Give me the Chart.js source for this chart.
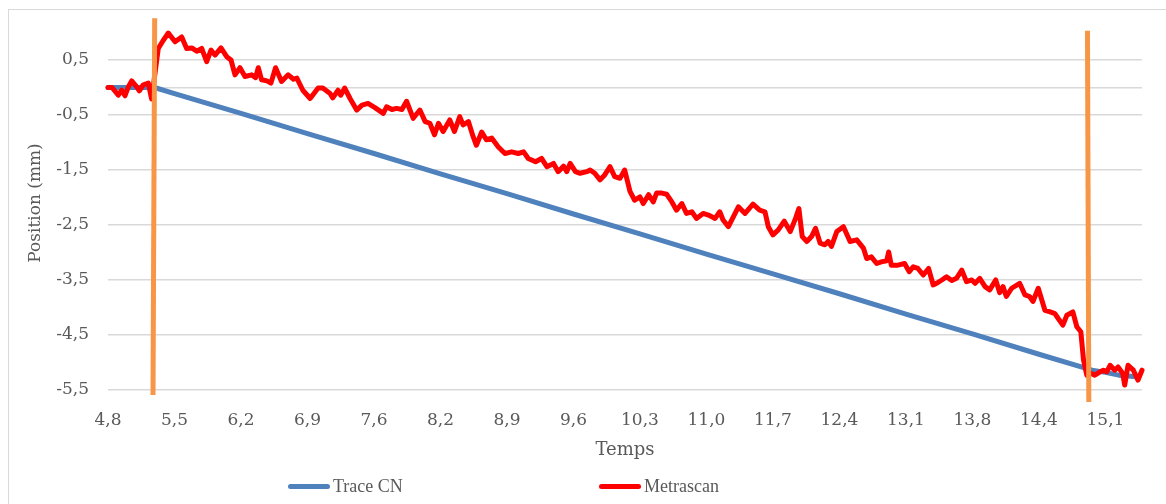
<!DOCTYPE html>
<html>
<head>
<meta charset="utf-8">
<script src="https://cdn.jsdelivr.net/npm/chart.js@4.4.1/dist/chart.umd.min.js"></script>
<style>
  html, body { margin: 0; padding: 0; background: #fff; overflow: hidden; }
  #wrap { position: relative; width: 1166px; height: 504px; }
  #frame { position: absolute; left: 8px; top: 9px; width: 1300px; height: 600px; border: 1px solid #d9d9d9; }
  #box { position: absolute; left: 0; top: 0; width: 1166px; height: 504px; }
  .leg { position: absolute; top: 475px; font-family: "Liberation Serif", serif; font-size: 18px; color: #595959; line-height: 22px; }
  .sw { position: absolute; width: 42px; height: 5px; border-radius: 3px; }
</style>
</head>
<body>
<div id="wrap">
  <div id="frame"></div>
  <div id="box"><canvas id="chart1"></canvas></div>
  <div class="sw" style="left:288px; top:484px; background:#4F81BD"></div>
  <div class="leg" style="left:333px">Trace CN</div>
  <div class="sw" style="left:599px; top:484px; background:#FF0000"></div>
  <div class="leg" style="left:644px">Metrascan</div>
</div>
<script>
// x axis: sample index, a tick label every 10 samples
const xTickPos = [0, 10, 20, 30, 40, 50, 60, 70, 80, 90, 100, 110, 120, 130, 140, 150];
const xTickLabels = ['4,8', '5,5', '6,2', '6,9', '7,6', '8,2', '8,9', '9,6', '10,3', '11,0', '11,7', '12,4', '13,1', '13,8', '14,4', '15,1'];
const yTicks = [-5.5, -4.5, -3.5, -2.5, -1.5, -0.5, 0, 0.5];

// Trace CN (blue)
const traceX = [0, 5, 7, 10, 20, 30, 40, 50, 60, 70, 80, 90, 100, 110, 120, 130, 140, 148, 150, 152, 154.7];
const traceY = [0, 0, 0, -0.11, -0.47, -0.84, -1.20, -1.57, -1.93, -2.30, -2.66, -3.03, -3.39, -3.75, -4.12, -4.48, -4.85, -5.14, -5.18, -5.23, -5.26];

// Metrascan (red)
const metraX = [0, 0.6, 1.55, 2.06, 2.56, 3.05, 3.56, 4.32, 4.71, 5.31, 6.06, 6.56, 7.56, 8.32, 9.07, 10.08, 11.08, 11.83, 12.59, 13.34,
  14.09, 14.84, 15.49, 16.09, 16.99, 17.85, 18.5, 19.1, 19.85, 20.6, 21.61, 22.2, 22.6, 23.1, 23.9, 24.5, 25.2, 26.1, 27.1, 27.9,
  28.4, 29.3, 30.4, 31.6, 32.3, 33.4, 33.8, 34.6, 35.0, 35.6, 36.4, 37.4, 38.2, 39.1, 40.2, 41.4, 41.9, 42.7, 43.4, 44.2,
  44.9, 45.9, 46.9, 47.7, 48.4, 49.1, 49.7, 50.4, 51.4, 52.1, 52.9, 53.4, 54.2, 54.9, 55.4, 56.2, 56.9, 57.7, 58.7, 59.7,
  60.7, 61.7, 62.5, 63.2, 64.3, 65.2, 66.0, 67.0, 67.7, 68.5, 69.0, 69.5, 70.3, 71.0, 72.0, 72.5, 73.2, 74.0, 74.7, 75.5,
  76.2, 77.0, 77.7, 78.5, 79.2, 80.0, 80.5, 81.3, 82.0, 82.5, 83.3, 84.0, 84.8, 85.5, 86.3, 87.0, 87.8, 88.5, 89.5, 90.3,
  91.3, 92.0, 92.5, 93.3, 94.8, 95.8, 97.0, 98.0, 98.8, 99.3, 100.0, 100.8, 101.7, 102.6, 103.4, 103.9, 104.4, 105.1, 105.8, 106.4,
  107.1, 107.8, 108.3, 108.8, 109.6, 110.6, 111.6, 112.6, 113.6, 114.1, 114.8, 115.6, 116.3, 117.1, 117.4, 117.8, 118.8, 119.8, 120.5, 121.1,
  121.8, 122.6, 123.4, 124.1, 124.6, 125.4, 126.1, 126.9, 127.6, 128.4, 129.1, 129.9, 130.4, 131.1, 131.9, 132.6, 133.5, 134.1, 134.6, 135.1,
  135.9, 137.1, 137.9, 138.6, 139.1, 139.9, 140.9, 141.7, 142.4, 142.9, 143.6, 144.2, 145.1, 145.7, 146.3, 146.7, 147.2, 147.7, 148.4, 149.2,
  149.7, 150.2, 150.7, 151.4, 151.9, 152.6, 152.9, 153.4, 154.2, 154.9, 155.5];
const metraY = [0.00, 0.00, -0.14, -0.05, -0.15, 0.01, 0.12, 0.01, -0.06, 0.05, 0.08, -0.21, 0.71, 0.86, 0.99, 0.83, 0.92, 0.71, 0.72, 0.66,
  0.71, 0.47, 0.68, 0.59, 0.72, 0.56, 0.50, 0.23, 0.36, 0.20, 0.23, 0.18, 0.36, 0.14, 0.12, 0.08, 0.36, 0.11, 0.23, 0.15,
  0.17, -0.05, -0.20, -0.01, -0.01, -0.11, -0.19, -0.05, -0.14, -0.01, -0.20, -0.41, -0.32, -0.29, -0.37, -0.47, -0.35, -0.40, -0.38, -0.40,
  -0.25, -0.56, -0.41, -0.62, -0.65, -0.86, -0.65, -0.80, -0.59, -0.80, -0.53, -0.68, -0.62, -0.89, -1.05, -0.81, -0.95, -0.92, -1.08, -1.20,
  -1.17, -1.20, -1.17, -1.29, -1.35, -1.29, -1.44, -1.38, -1.53, -1.43, -1.53, -1.38, -1.53, -1.56, -1.53, -1.50, -1.56, -1.68, -1.59, -1.44,
  -1.62, -1.65, -1.50, -1.89, -2.05, -1.99, -2.11, -1.95, -2.08, -1.92, -1.92, -1.94, -2.08, -2.23, -2.11, -2.29, -2.26, -2.38, -2.29, -2.32,
  -2.38, -2.26, -2.41, -2.53, -2.17, -2.29, -2.12, -2.23, -2.26, -2.53, -2.68, -2.59, -2.43, -2.62, -2.38, -2.20, -2.71, -2.80, -2.71, -2.56,
  -2.83, -2.86, -2.80, -2.89, -2.62, -2.53, -2.80, -2.77, -2.92, -3.11, -3.08, -3.20, -3.17, -3.15, -2.99, -3.23, -3.23, -3.20, -3.35, -3.26,
  -3.29, -3.41, -3.29, -3.59, -3.56, -3.50, -3.44, -3.51, -3.47, -3.32, -3.53, -3.50, -3.56, -3.47, -3.62, -3.68, -3.50, -3.73, -3.62, -3.80,
  -3.65, -3.56, -3.77, -3.80, -3.89, -3.65, -4.05, -4.08, -4.11, -4.20, -4.32, -4.14, -4.08, -4.35, -4.44, -4.95, -5.23, -5.19, -5.23, -5.17,
  -5.14, -5.17, -5.05, -5.14, -5.08, -5.20, -5.41, -5.05, -5.14, -5.32, -5.14];

// the two orange markers (start / end of the move)
const markStartX = [7.02, 6.77];
const markStartY = [1.26, -5.59];
const markEndX = [147.3, 147.5];
const markEndY = [1.03, -5.72];

const pts = (xs, ys) => xs.map((x, i) => ({ x: x, y: ys[i] }));
const comma = v => v.toFixed(1).replace('.', ',');

const serif = '"DejaVu Serif", serif';
const grey = '#595959';

new Chart(document.getElementById('chart1'), {
  type: 'line',
  data: {
    datasets: [
      { label: 'Trace CN', data: pts(traceX, traceY), borderColor: '#4F81BD', borderWidth: 5, order: 2 },
      { label: 'Metrascan', data: pts(metraX, metraY), borderColor: '#FF0000', borderWidth: 5, order: 1 },
      { label: 'debut', data: pts(markStartX, markStartY), borderColor: '#F79646', borderWidth: 5, borderCapStyle: 'butt', order: 0 },
      { label: 'fin', data: pts(markEndX, markEndY), borderColor: '#F79646', borderWidth: 5, borderCapStyle: 'butt', order: 0 }
    ]
  },
  options: {
    responsive: true,
    maintainAspectRatio: false,
    animation: false,
    layout: { padding: { top: 16, right: 24, left: 0, bottom: 0 } },
    elements: {
      point: { radius: 0 },
      line: { tension: 0, borderJoinStyle: 'round', borderCapStyle: 'round', fill: false }
    },
    datasets: { line: { clip: false } },
    plugins: { legend: { display: false }, tooltip: { enabled: false } },
    scales: {
      x: {
        type: 'linear',
        min: 0,
        max: 155.5,
        afterBuildTicks: s => { s.ticks = xTickPos.map(v => ({ value: v })); },
        afterFit: s => { s.height = 114; s.paddingLeft = 0; s.paddingRight = 0; },
        grid: { display: false },
        border: { display: false },
        ticks: {
          autoSkip: false,
          maxRotation: 0,
          padding: 12,
          color: grey,
          font: { family: serif, size: 17 },
          callback: v => xTickLabels[xTickPos.indexOf(v)]
        },
        title: { display: true, text: 'Temps', color: grey, font: { family: serif, size: 18 }, padding: { bottom: 43 } }
      },
      y: {
        min: -5.5,
        max: 1.3,
        afterBuildTicks: s => { s.ticks = yTicks.map(v => ({ value: v })); },
        afterFit: s => { s.width = 108; s.paddingTop = 0; s.paddingBottom = 0; },
        grid: { color: '#d9d9d9', lineWidth: 1.5, drawTicks: false },
        border: { display: false },
        ticks: {
          padding: 19,
          color: grey,
          font: { family: serif, size: 17 },
          callback: v => (v === 0 ? '' : comma(v))
        },
        title: { display: true, text: 'Position (mm)', color: grey, font: { family: serif, size: 17 }, padding: { top: 25 } }
      }
    }
  }
});
</script>
</body>
</html>
